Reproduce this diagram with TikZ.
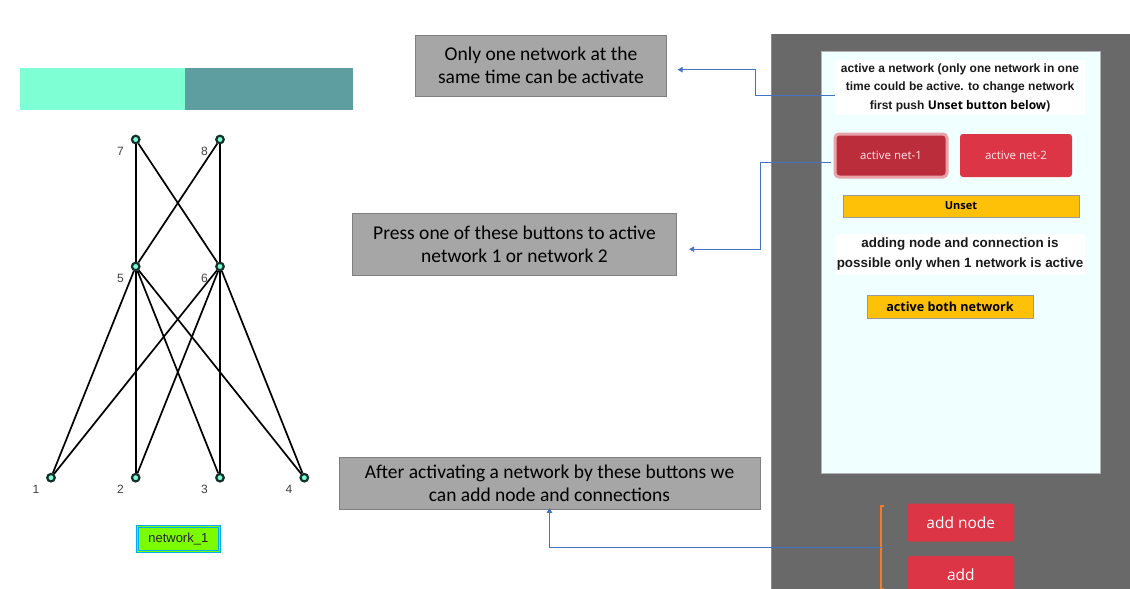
\documentclass[tikz,border=0pt]{standalone}
\usepackage{fontspec}
\setmainfont{Liberation Sans}
\newfontfamily\calfont{Carlito}
\newfontfamily\uifont{Open Sans}
\usetikzlibrary{arrows.meta,calc}
\definecolor{aqua}{HTML}{7FFFD4}
\definecolor{cadet}{HTML}{5F9EA0}
\definecolor{panelgray}{HTML}{696969}
\definecolor{azurec}{HTML}{F0FFFF}
\definecolor{btnred}{HTML}{DC3545}
\definecolor{btnreddark}{HTML}{BB2D3B}
\definecolor{ringpink}{HTML}{E8A3AA}
\definecolor{amber}{HTML}{FFC107}
\definecolor{callgray}{HTML}{A6A6A6}
\definecolor{callborder}{HTML}{7F7F7F}
\definecolor{arrblue}{HTML}{4472C4}
\definecolor{orangeb}{HTML}{ED7D31}
\definecolor{lime}{HTML}{7CFC00}
\definecolor{gnodefill}{HTML}{7FFFD4}
\definecolor{gnodedraw}{HTML}{15302C}
\definecolor{txtdark}{HTML}{1A1A1A}
\tikzset{
  gnode/.style={circle, minimum size=7.5, inner sep=0pt, fill=gnodefill, draw=gnodedraw, line width=2.2pt},
  gedge/.style={line width=1.7pt, black},
  glabel/.style={inner sep=0pt, text=black!75, font=\fontsize{12}{14}\selectfont},
  callout/.style={fill=callgray, draw=callborder, line width=0.8pt, inner sep=0pt, align=center,
     font=\calfont\fontsize{19.5}{23}\selectfont, text=black},
  callarrow/.style={draw=arrblue, line width=0.9pt, -{Triangle[length=5pt,width=5.5pt]}},
  whitebox/.style={fill=white, inner sep=0pt, align=center, text=txtdark},
  redbtn/.style={fill=btnred, rounded corners=3pt, inner sep=0pt, text=white},
  yelbtn/.style={fill=amber, draw=black!40, line width=0.8pt, inner sep=0pt, text=black, font=\uifont\bfseries\fontsize{11}{13}\selectfont},
}
\begin{document}
\begin{tikzpicture}[x=1pt,y=-1pt]
\fill[white] (0,0) rectangle (1130,589);
\useasboundingbox (0,0) rectangle (1130,589);

% colour bar
\node[fill=aqua, minimum width=165, minimum height=42, inner sep=0pt] (barL) at (102.5,89) {};
\node[fill=cadet, minimum width=168, minimum height=42, inner sep=0pt] (barR) at (269,89) {};

% graph
\node[gnode] (n7) at (135.7,139.5) {};
\node[gnode] (n8) at (220,139.5) {};
\node[gnode] (n5) at (135.7,266.5) {};
\node[gnode] (n6) at (220,266.5) {};
\node[gnode] (n1) at (51,477.7) {};
\node[gnode] (n2) at (135.7,477.7) {};
\node[gnode] (n3) at (220,477.7) {};
\node[gnode] (n4) at (304.3,477.7) {};
\foreach \a/\b in {7/5,7/6,8/5,8/6,5/1,5/2,5/3,5/4,6/1,6/2,6/3,6/4}
  \draw[gedge] (n\a) -- (n\b);
\node[glabel] (l7) at (120.5,151.5) {7};
\node[glabel] (l8) at (204.5,151.5) {8};
\node[glabel] (l5) at (120.5,278) {5};
\node[glabel] (l6) at (204.5,278) {6};
\node[glabel] (l1) at (36,489.5) {1};
\node[glabel] (l2) at (120.5,489.5) {2};
\node[glabel] (l3) at (204.5,489.5) {3};
\node[glabel] (l4) at (289,489.5) {4};
\node[fill=lime, draw=cyan, line width=0.8pt, minimum width=84, minimum height=27.5, inner sep=0pt,
      font=\fontsize{13}{15}\selectfont, text=black!85] (net1lbl) at (178.3,538.8) {network\_1};
\draw[cyan, line width=0.6pt] ($(net1lbl.south west)+(2.5,-2.5)$) rectangle ($(net1lbl.north east)+(-2.5,2.5)$);

% right panel
\fill[panelgray] (771,34) rectangle (1130,589);
\draw[black!45, line width=0.8pt] (771.5,34) -- (771.5,589);
\node[fill=azurec, draw=black!30, line width=0.8pt, minimum width=279, minimum height=422, inner sep=0pt] (inner) at (960.5,262.5) {};

\node[whitebox, minimum width=250, minimum height=55, font=\bfseries\fontsize{12}{18.5}\selectfont] (t1) at (960,87.5)
  {active a network (only one network in one\\time could be active. to change network\\first push {\uifont\bfseries\color{black}Unset button below})};

\node[fill=btnreddark, draw=ringpink, line width=3pt, rounded corners=4pt, minimum width=112, minimum height=43, inner sep=0pt,
      text=white!92!red, font=\uifont\fontsize{11.5}{13}\selectfont] (net1btn) at (891,155.5) {active net-1};
\node[redbtn, minimum width=112, minimum height=43, text=white!92!red, font=\uifont\fontsize{11.5}{13}\selectfont] (net2btn) at (1016,155.5) {active net-2};

\node[yelbtn, minimum width=236, minimum height=22] (unset) at (961,206) {Unset};

\node[whitebox, minimum width=250, minimum height=41, font=\bfseries\fontsize{13.4}{20}\selectfont] (t2) at (960,254.5)
  {adding node and connection is\\possible only when 1 network is active};

\node[yelbtn, minimum width=166, minimum height=23, font=\uifont\bfseries\fontsize{12.6}{14}\selectfont] (both) at (950,306.7) {active both network};

\node[redbtn, minimum width=107, minimum height=38, font=\uifont\fontsize{15.5}{18}\selectfont] (addnode) at (960.8,522.5) {add node};
\node[redbtn, minimum width=107, minimum height=38, font=\uifont\fontsize{15.5}{18}\selectfont] (addbtn) at (960.8,575) {add};

% orange bracket
\coordinate (brtop) at (881,506);
\coordinate (brbot) at (881,589);
\draw[orangeb, line width=1.4pt] ($(brtop)+(3,0)$) -- (brtop) -- (brbot) -- ($(brbot)+(3,0)$);
\coordinate (brmid) at (881,547.5);

% callouts
\node[callout, minimum width=251.5, minimum height=61.5] (c1) at (541,65.7) {Only one network at the\\same time can be activate};
\node[callout, minimum width=324.5, minimum height=61.5] (c2) at (514.5,244.2) {Press one of these buttons to active\\network 1 or network 2};
\node[callout, minimum width=421, minimum height=52] (c3) at (549.5,483) {After activating a network by these buttons we\\can add node and connections};

% connectors
\draw[callarrow] ($(t1.west)+(0,7.5)$) -- ++(-79,0) |- ($(c1.east)+(10.5,4)$);
\draw[callarrow] ($(net1btn.west)+(-3,6.5)$) -- (760,162) |- ($(c2.east)+(12,5)$);
\draw[callarrow] (brmid) -| ($(c3.south)+(0,-1.5)$);
\end{tikzpicture}
\end{document}
